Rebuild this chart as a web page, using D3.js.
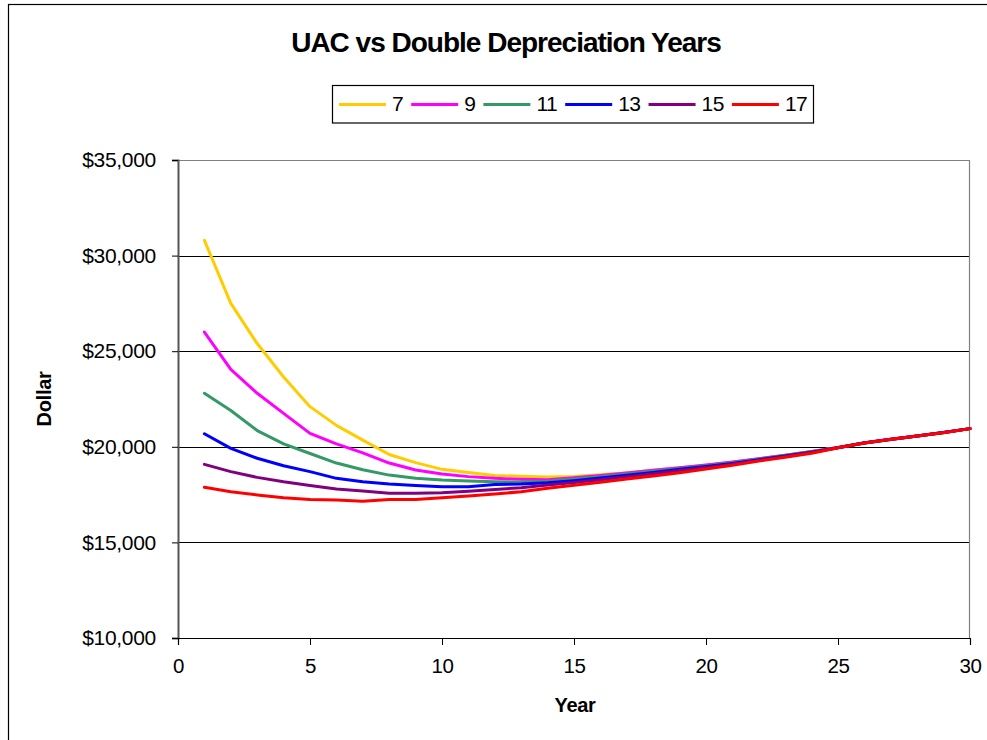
<!DOCTYPE html>
<html>
<head>
<meta charset="utf-8">
<script src="https://cdn.jsdelivr.net/npm/d3@7"></script>
<style>
  html, body { margin: 0; padding: 0; background: #fff; }
  svg { display: block; font-family: "Liberation Sans", Arial, sans-serif; }
</style>
</head>
<body>
<svg id="chart" width="987" height="740"></svg>
<script>
// Service years on the x axis
const years = d3.range(1, 31);

// Depreciation periods (legend labels) and their line colours
const seriesNames = ["7", "9", "11", "13", "15", "17"];
const seriesColors = ["#FFCC00", "#FF00FF", "#339966", "#0000FF", "#800080", "#FF0000"];

// Uniform annual cost for each depreciation period, years 1..30
const uac7 = [30800, 27500, 25400, 23650, 22100, 21120, 20350, 19600, 19170, 18820,
              18650, 18500, 18460, 18420, 18450, 18540, 18640, 18770, 18900, 19040,
              19190, 19380, 19560, 19750, 19970, 20200, 20380, 20560, 20750, 20950];
const uac9 = [26000, 24050, 22800, 21750, 20700, 20150, 19680, 19150, 18790, 18580,
              18440, 18350, 18300, 18280, 18380, 18500, 18630, 18770, 18910, 19050,
              19200, 19380, 19560, 19750, 19970, 20200, 20380, 20560, 20750, 20950];
const uac11 = [22800, 21900, 20850, 20150, 19650, 19150, 18800, 18520, 18350, 18260,
               18210, 18170, 18160, 18200, 18310, 18440, 18580, 18720, 18870, 19010,
               19170, 19350, 19540, 19740, 19960, 20200, 20380, 20560, 20750, 20950];
const uac13 = [20680, 19920, 19400, 19010, 18700, 18350, 18170, 18050, 17980, 17910,
               17910, 18030, 18050, 18120, 18230, 18370, 18510, 18660, 18820, 18970,
               19130, 19320, 19520, 19720, 19950, 20210, 20390, 20570, 20750, 20950];
const uac15 = [19080, 18700, 18400, 18170, 17980, 17790, 17690, 17570, 17570, 17600,
               17670, 17770, 17860, 18000, 18130, 18280, 18440, 18590, 18760, 18920,
               19090, 19290, 19490, 19700, 19950, 20200, 20390, 20560, 20750, 20950];
const uac17 = [17880, 17650, 17480, 17340, 17250, 17220, 17150, 17240, 17250, 17340,
               17430, 17530, 17650, 17830, 17990, 18150, 18310, 18470, 18640, 18840,
               19040, 19260, 19450, 19660, 19950, 20200, 20390, 20560, 20740, 20950];
const seriesValues = [uac7, uac9, uac11, uac13, uac15, uac17];

// Axis ticks
const xTicks = [0, 5, 10, 15, 20, 25, 30];
const yTicks = [10000, 15000, 20000, 25000, 30000, 35000];

const titleText = "UAC vs Double Depreciation Years";
const xTitle = "Year";
const yTitle = "Dollar";

const svg = d3.select("#chart");

// Outer chart frame (runs off the right and bottom edges)
svg.append("rect")
  .attr("x", 8.5).attr("y", 4.5)
  .attr("width", 1000).attr("height", 800)
  .attr("fill", "#fff").attr("stroke", "#000").attr("stroke-width", 1.2);

const plot = { left: 178, top: 160, right: 970, bottom: 638 };

const x = d3.scaleLinear().domain([0, 30]).range([plot.left, plot.right]);
const y = d3.scaleLinear().domain([10000, 35000]).range([plot.bottom, plot.top]);

// Horizontal gridlines
svg.append("g")
  .selectAll("line")
  .data(yTicks.filter(v => v > 10000 && v < 35000))
  .join("line")
  .attr("x1", plot.left).attr("x2", plot.right)
  .attr("y1", d => Math.round(y(d)) + 0.5).attr("y2", d => Math.round(y(d)) + 0.5)
  .attr("stroke", "#000").attr("stroke-width", 1);

// Plot-area top and right edges
svg.append("path")
  .attr("d", `M${plot.left},${plot.top + 0.5}H${plot.right - 0.5}V${plot.bottom}`)
  .attr("fill", "none").attr("stroke", "#808080").attr("stroke-width", 1.2);

// Y axis
const yAxis = d3.axisLeft(y)
  .tickValues(yTicks)
  .tickSize(6)
  .tickPadding(16)
  .tickFormat(d => "$" + d3.format(",")(d));
const gy = svg.append("g")
  .attr("transform", `translate(${plot.left},0)`)
  .call(yAxis);
gy.select(".domain").attr("stroke", "#555").attr("stroke-width", 2);
gy.selectAll(".tick line").attr("stroke", "#000");
gy.selectAll(".tick text")
  .attr("font-family", "Liberation Sans, Arial, sans-serif")
  .attr("font-size", 21).attr("fill", "#000")
  .attr("letter-spacing", -0.3);

// X axis
const xAxis = d3.axisBottom(x)
  .tickValues(xTicks)
  .tickSize(7)
  .tickPadding(13)
  .tickFormat(d3.format("d"));
const gx = svg.append("g")
  .attr("transform", `translate(0,${plot.bottom})`)
  .call(xAxis);
gx.select(".domain").attr("stroke", "#000").attr("stroke-width", 1.2);
gx.selectAll(".tick line").attr("stroke", "#000");
gx.selectAll(".tick text")
  .attr("font-family", "Liberation Sans, Arial, sans-serif")
  .attr("font-size", 20.5).attr("fill", "#000")
  .attr("letter-spacing", -0.3);

// Series lines
const line = d3.line()
  .x((d, i) => x(years[i]))
  .y(d => y(d));

svg.append("g")
  .selectAll("path")
  .data(seriesValues)
  .join("path")
  .attr("d", d => line(d))
  .attr("fill", "none")
  .attr("stroke", (d, i) => seriesColors[i])
  .attr("stroke-width", 3)
  .attr("stroke-linejoin", "round")
  .attr("stroke-linecap", "round");

// Title
svg.append("text")
  .attr("x", 506).attr("y", 51.5)
  .attr("text-anchor", "middle")
  .attr("font-size", 28).attr("font-weight", "bold")
  .attr("letter-spacing", -1)
  .text(titleText);

// Axis titles
svg.append("text")
  .attr("x", 575).attr("y", 712)
  .attr("text-anchor", "middle")
  .attr("font-size", 20).attr("font-weight", "bold")
  .attr("letter-spacing", -0.3)
  .text(xTitle);

svg.append("text")
  .attr("transform", "translate(51,399) rotate(-90)")
  .attr("text-anchor", "middle")
  .attr("font-size", 20).attr("font-weight", "bold")
  .attr("letter-spacing", -0.3)
  .text(yTitle);

// Legend
const legend = svg.append("g");
const legendBox = legend.append("rect")
  .attr("x", 332.5).attr("y", 85.5)
  .attr("width", 481).attr("height", 37.5)
  .attr("fill", "#fff").attr("stroke", "#000").attr("stroke-width", 1.2);

let lx = 339;
seriesNames.forEach((name, i) => {
  legend.append("line")
    .attr("x1", lx).attr("x2", lx + 47)
    .attr("y1", 104.5).attr("y2", 104.5)
    .attr("stroke", seriesColors[i]).attr("stroke-width", 3);
  const t = legend.append("text")
    .attr("x", lx + 53).attr("y", 110.5)
    .attr("font-size", 21)
    .attr("letter-spacing", -0.5)
    .text(name);
  lx += 47 + 6 + t.node().getComputedTextLength() + 8;
});
</script>
</body>
</html>
